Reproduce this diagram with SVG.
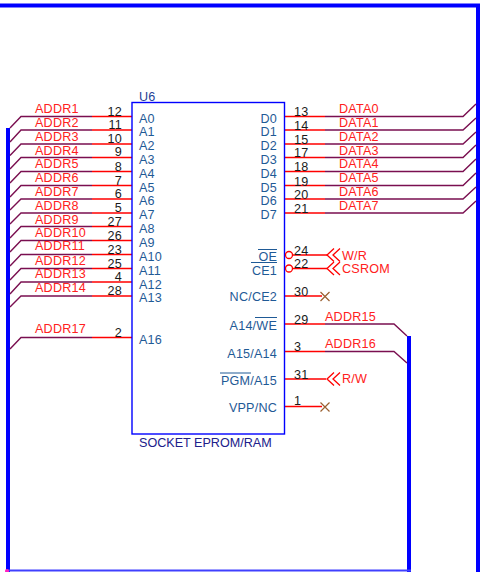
<svg xmlns="http://www.w3.org/2000/svg" width="484" height="572" viewBox="0 0 484 572">
<style>
text{font-family:"Liberation Sans",Arial,sans-serif;font-size:12.6px;letter-spacing:.2px}
.net{fill:#ff2020}
.pin{fill:#1a1a1a}
.nm{fill:#1f5a96}
.r{stroke:#ff0000;stroke-width:1.4;fill:none}
.w{stroke:#7a0f50;stroke-width:1.4;fill:none}
.x{stroke:#9a6030;stroke-width:1.2;fill:none}
.e{text-anchor:end}
</style>
<defs>
<path id="off" d="M9 -6.500L2 0L9 6.500M15 -6.500L8 0L15 6.500" fill="none" stroke="#ff0000" stroke-width="1.3"/>
<path id="nc" d="M-4.500 -4.500L4.500 4.500M-4.500 4.500L4.500 -4.500" class="x"/>
</defs>
<g id="connectors">
<path d="M0 5.500H478V572" fill="none" stroke="#0000ff" stroke-width="4"/>
<rect x="6" y="128" width="4" height="444" fill="#0000ff"/>
<rect x="407" y="336" width="4" height="236" fill="#0000ff"/>
<path d="M7 570.500H411" stroke="#4040ff" stroke-width="2" fill="none"/>
<circle cx="7" cy="571" r="2" fill="#ff20c0"/>
<path class="w" d="M10 128L21 116.500H92M10 142L21 130H92M10 155.500L21 144H92M10 169L21 157.500H92M10 183L21 171.500H92M10 197L21 185.500H92M10 210L21 199H92M10 224L21 213H92M10 238L21 226.500H92M10 252L21 240.500H92M10 266L21 254.500H92M10 280L21 268.500H92M10 294L21 282H92M10 307L21 296H92M10 349L21 337.500H92"/>
<path class="r" d="M92 116.500H132M92 130H132M92 144H132M92 157.500H132M92 171.500H132M92 185.500H132M92 199H132M92 213H132M92 226.500H132M92 240.500H132M92 254.500H132M92 268.500H132M92 282H132M92 296H132M92 337.500H132"/>
<path class="r" d="M284.500 116.500H325M284.500 130H325M284.500 144H325M284.500 157.500H325M284.500 171.500H325M284.500 185.500H325M284.500 199H325M284.500 213H325"/>
<path class="w" d="M325 116.500H463L476 104M325 130H463L476 118M325 144H463L476 132M325 157.500H463L476 145M325 171.500H463L476 159M325 185.500H463L476 173M325 199H463L476 187M325 213H463L476 201"/>
<path class="r" d="M293 255H327M293 268.500H327M284.500 296H322M284.500 324H325M284.500 351.500H325M284.500 379H326M284.500 406.500H322"/>
<path class="w" d="M325 324H394L407 336M325 351.500H394L407 363"/>
</g>
<g id="U6">
<rect x="132" y="102.500" width="152.500" height="331.500" fill="#fff" stroke="#0000ff" stroke-width="1.400"/>
<circle cx="289" cy="255" r="3.500" fill="#fff" stroke="#ff0000" stroke-width="1.300"/>
<circle cx="289" cy="268.500" r="3.500" fill="#fff" stroke="#ff0000" stroke-width="1.300"/>
<path d="M258 249.500H277M220 373H251M255 317.500H277" stroke="#1f5a96" stroke-width="1" fill="none"/>
<text x="139" y="101" fill="#1f3f96">U6</text>
<text x="139" y="447" fill="#20208a" style="letter-spacing:0">SOCKET EPROM/RAM</text>
<g class="nm">
<text x="139" y="123">A0</text><text x="139" y="136">A1</text><text x="139" y="150">A2</text><text x="139" y="164">A3</text><text x="139" y="178">A4</text><text x="139" y="192">A5</text><text x="139" y="205">A6</text><text x="139" y="219">A7</text><text x="139" y="233">A8</text><text x="139" y="247">A9</text><text x="139" y="261">A10</text><text x="139" y="275">A11</text><text x="139" y="289">A12</text><text x="139" y="302">A13</text><text x="139" y="344">A16</text>
<text x="277" y="123" class="e">D0</text><text x="277" y="136" class="e">D1</text><text x="277" y="150" class="e">D2</text><text x="277" y="164" class="e">D3</text><text x="277" y="178" class="e">D4</text><text x="277" y="192" class="e">D5</text><text x="277" y="205" class="e">D6</text><text x="277" y="219" class="e">D7</text>
<text x="277" y="261" class="e">OE</text><text x="277" y="275" class="e">CE1</text><text x="277" y="301" class="e">NC/CE2</text><text x="277" y="330" class="e">A14/WE</text><text x="277" y="358" class="e">A15/A14</text><text x="277" y="385" class="e">PGM/A15</text><text x="277" y="412" class="e">VPP/NC</text>
</g>
<path d="M251 262.500H277" stroke="#1f5a96" stroke-width="1" fill="none"/>
</g>
<g id="pin-numbers" class="pin">
<text x="122" y="116" class="e">12</text><text x="122" y="129" class="e">11</text><text x="122" y="143" class="e">10</text><text x="122" y="156" class="e">9</text><text x="122" y="171" class="e">8</text><text x="122" y="185" class="e">7</text><text x="122" y="198" class="e">6</text><text x="122" y="212" class="e">5</text><text x="122" y="226" class="e">27</text><text x="122" y="240" class="e">26</text><text x="122" y="254" class="e">23</text><text x="122" y="268" class="e">25</text><text x="122" y="281" class="e">4</text><text x="122" y="295" class="e">28</text><text x="122" y="337" class="e">2</text>
<text x="294" y="116">13</text><text x="294" y="130">14</text><text x="294" y="144">15</text><text x="294" y="157">17</text><text x="294" y="171">18</text><text x="294" y="186">19</text><text x="294" y="199">20</text><text x="294" y="213">21</text>
<text x="294" y="255">24</text><text x="294" y="268">22</text><text x="294" y="296">30</text><text x="294" y="324">29</text><text x="294" y="351">3</text><text x="294" y="379">31</text><text x="294" y="405">1</text>
</g>
<g id="net-labels" class="net">
<text x="35" y="113">ADDR1</text><text x="35" y="127">ADDR2</text><text x="35" y="141">ADDR3</text><text x="35" y="155">ADDR4</text><text x="35" y="168">ADDR5</text><text x="35" y="182">ADDR6</text><text x="35" y="196">ADDR7</text><text x="35" y="210">ADDR8</text><text x="35" y="224">ADDR9</text><text x="35" y="237">ADDR10</text><text x="35" y="250">ADDR11</text><text x="35" y="265">ADDR12</text><text x="35" y="278">ADDR13</text><text x="35" y="292">ADDR14</text><text x="35" y="333">ADDR17</text>
<text x="339" y="113">DATA0</text><text x="339" y="127">DATA1</text><text x="339" y="141">DATA2</text><text x="339" y="155">DATA3</text><text x="339" y="168">DATA4</text><text x="339" y="182">DATA5</text><text x="339" y="196">DATA6</text><text x="339" y="210">DATA7</text>
<text x="342" y="260">W/R</text><text x="342" y="273">CSROM</text><text x="325" y="321">ADDR15</text><text x="325" y="348">ADDR16</text><text x="342" y="383">R/W</text>
</g>
<g id="offpage-W-R"><use href="#off" x="325" y="255"/></g>
<g id="offpage-CSROM"><use href="#off" x="325" y="268.500"/></g>
<g id="offpage-R-W"><use href="#off" x="325" y="379"/></g>
<g id="nc-30"><use href="#nc" x="325" y="296.500"/></g>
<g id="nc-1"><use href="#nc" x="325" y="407"/></g>
</svg>
